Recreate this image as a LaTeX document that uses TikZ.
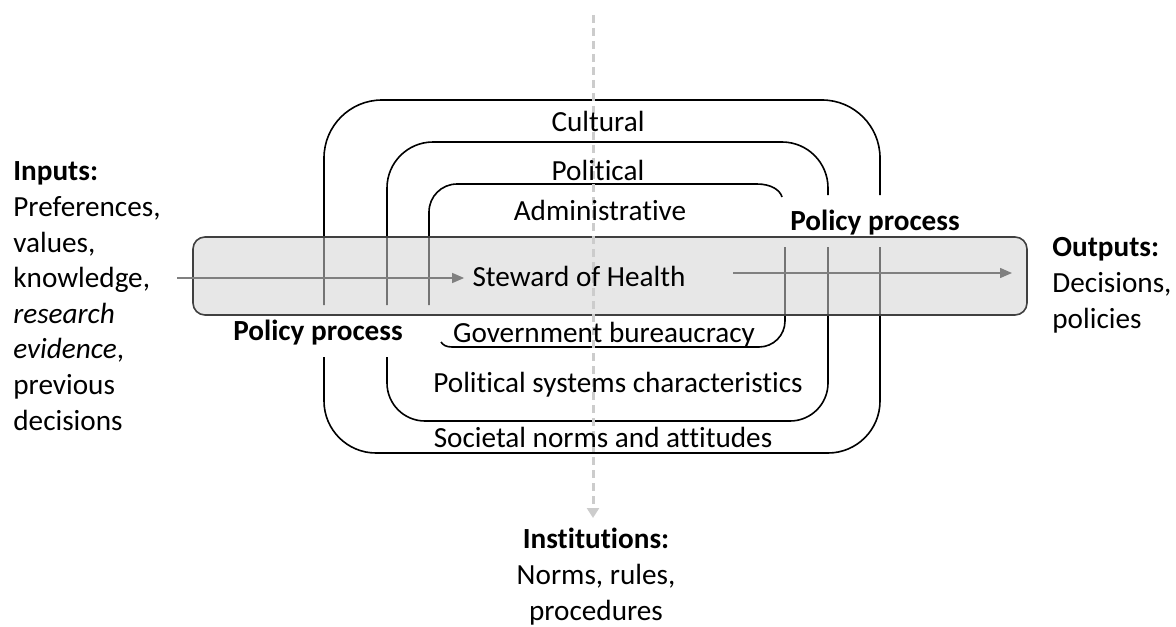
\documentclass[tikz,border=0pt]{standalone}
\usepackage{fontspec}
\setmainfont{Carlito}[RawFeature={-liga;-calt}]
\usetikzlibrary{arrows.meta,positioning}

\begin{document}
\begin{tikzpicture}[x=.5pt,y=-.5pt,
    ring/.style={line width=.8pt,rounded corners=#1},
    txt/.style={font=\fontsize{14.6}{17.8}\selectfont,inner sep=0pt,anchor=base},
    hd/.style={txt,font=\fontsize{14.6}{17.8}\selectfont\bfseries},
    flow/.style={draw=black!50,line width=.7pt,-{Triangle[length=6pt,width=5pt]}},
    guide/.style={draw=black!20,line width=1.5pt,dash pattern=on 4pt off 2.5pt,-{Triangle[length=5pt,width=6pt]}}]
    \useasboundingbox (0,0) rectangle (1176,626);

    \draw[ring=29pt] (324,305) -- (324,100) -- (880,100) -- (880,195);
    \draw[ring=26pt] (880,247) -- (880,453) -- (324,453) -- (324,357);
    \draw[ring=23pt] (387,305) -- (387,142) -- (828,142) -- (828,195);
    \draw[ring=19pt] (828,247) -- (828,421) -- (387,421) -- (387,357);
    \draw[ring=14pt] (429,305) -- (429,184) -- (757,184);
    \draw[line width=.8pt] (757,184) .. controls (771,184) and (780,190) .. (782,197);
    \draw[ring=13pt] (785,247) -- (785,347) -- (452,347);
    \draw[line width=.8pt] (452,347) .. controls (446,347) and (443,345) .. (441,342);

    \node[draw=black!75,line width=.8pt,fill=black!17,fill opacity=.55,rounded corners=6pt,
        minimum width=417pt,minimum height=39pt] (bar) at (610,276) {};

    \coordinate (top) at (593,15);
    \coordinate (down) at (593,518);
    \draw[guide] (top) -- (down);

    \node[txt] (cult) at (598,132) {Cultural};
    \node[txt] (pol) at (598,180) {Political};
    \node[txt] (adm) at (600,220) {Administrative};
    \node[txt] (steward) at (579,286) {Steward of Health};
    \node[txt] (gov) at (604,342) {Government bureaucracy};
    \node[txt] (polsys) at (618,392) {Political systems characteristics};
    \node[txt] (soc) at (603,447) {Societal norms and attitudes};
    \node[hd] (ppl) at (318,340) {Policy process};
    \node[hd] (ppr) at (875,230) {Policy process};

    \coordinate (in) at (177,278);
    \coordinate (mid) at (733,273);
    \coordinate (out) at (1012,273);
    \draw[flow,shorten >=4pt] (in) -- (steward.west |- in);
    \draw[flow] (mid) -- (out);

    \node[txt,anchor=base west,align=left] (inputs) at (13,430)
        {\textbf{Inputs:}\\Preferences,\\values,\\knowledge,\\\textit{research}\\\textit{evidence},\\previous\\decisions};
    \node[txt,anchor=base west,align=left] (outputs) at (1052,328)
        {\textbf{Outputs:}\\Decisions,\\policies};
    \node[txt,align=center] (inst) at (596,620)
        {\textbf{Institutions:}\\Norms, rules,\\procedures};
\end{tikzpicture}
\end{document}
